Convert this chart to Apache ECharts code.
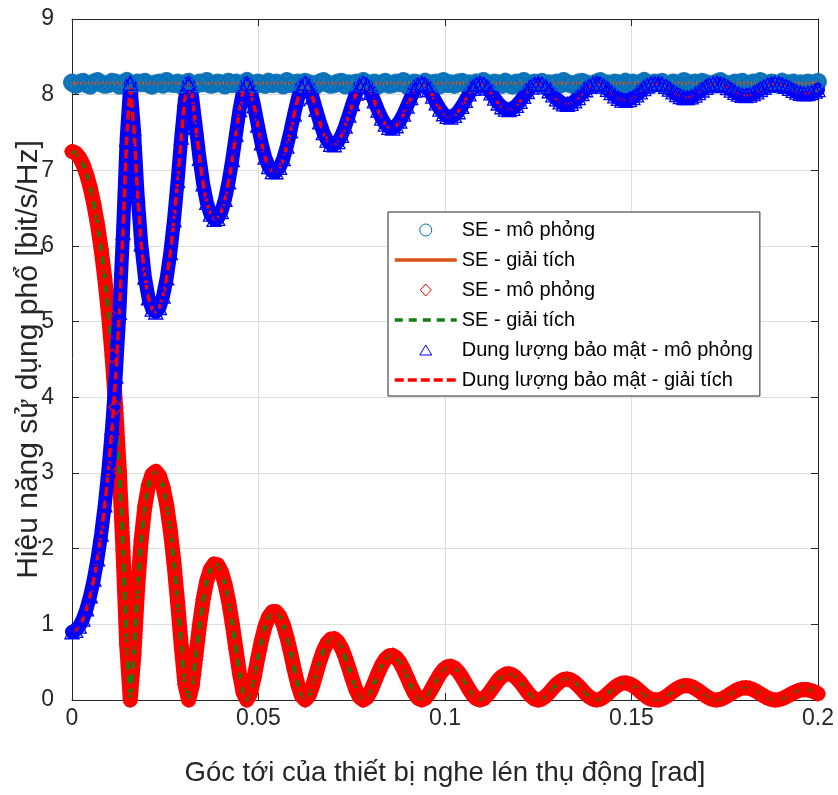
<!DOCTYPE html>
<html><head><meta charset="utf-8">
<script src="https://cdn.jsdelivr.net/npm/echarts@6/dist/echarts.min.js"></script>
<style>html,body{margin:0;padding:0;background:#fff}#c{width:838px;height:795px}</style>
</head><body><div id="c"></div>
<script>
// Sampling grid of the curves: theta = i/1024 rad (i = 0..204), last sample at 0.2 rad
const THETA_STEP = 1 / 1024;
const THETA_END = 0.2;

// SE of the legitimate user, simulation (circles)
const seLegitSim = [
8.16,8.13,8.15,8.17,8.14,8.12,8.16,8.18,8.15,8.13,8.14,8.17,8.16,8.12,8.15,8.18,8.14,8.13,8.16,8.15,
8.17,8.14,8.12,8.15,8.16,8.13,8.18,8.15,8.14,8.16,8.12,8.15,8.17,8.14,8.13,8.16,8.15,8.18,8.13,8.14,
8.16,8.15,8.12,8.17,8.14,8.16,8.13,8.15,8.18,8.14,8.12,8.16,8.15,8.13,8.17,8.14,8.16,8.15,8.12,8.18,
8.14,8.15,8.16,8.13,8.17,8.15,8.14,8.12,8.16,8.18,8.15,8.13,8.14,8.16,8.17,8.12,8.15,8.14,8.16,8.13,
8.18,8.15,8.14,8.16,8.12,8.15,8.17,8.13,8.14,8.16,8.15,8.18,8.12,8.14,8.16,8.15,8.13,8.17,8.14,8.15,
8.16,8.12,8.18,8.14,8.15,8.13,8.16,8.17,8.14,8.15,8.12,8.16,8.13,8.18,8.15,8.14,8.16,8.15,8.13,8.17,
8.14,8.12,8.16,8.15,8.18,8.13,8.14,8.16,8.15,8.17,8.12,8.15,8.14,8.16,8.13,8.18,8.15,8.14,8.12,8.16,
8.17,8.15,8.13,8.14,8.16,8.18,8.12,8.15,8.14,8.16,8.15,8.13,8.17,8.14,8.16,8.12,8.15,8.18,8.14,8.13,
8.16,8.15,8.17,8.12,8.14,8.16,8.15,8.13,8.18,8.14,8.15,8.16,8.12,8.17,8.15,8.14,8.13,8.16,8.18,8.15,
8.14,8.12,8.16,8.15,8.17,8.13,8.14,8.16,8.15,8.18,8.12,8.14,8.16,8.15,8.13,8.17,8.14,8.15,8.16,8.13,
8.15,8.14,8.16,8.15,8.13,8.17];

// SE of the legitimate user, analytic (solid line)
const seLegitAnalyticTheta = [0, 0.2];
const seLegitAnalytic = [8.15, 8.15];

// SE of the eavesdropper (diamonds = simulation, green dashed = analytic)
const seEve = [
7.248,7.229,7.174,7.080,6.947,6.772,6.553,6.283,5.959,5.570,5.106,4.547,3.868,3.027,1.973,0.733,0,
0.600,1.470,2.121,2.560,2.836,2.983,3.022,2.963,2.813,2.572,2.237,1.806,1.285,0.711,0.208,0,
0.185,0.581,0.990,1.328,1.574,1.729,1.798,1.786,1.697,1.534,1.301,1.008,0.675,0.346,0.094,0,
0.087,0.298,0.551,0.786,0.974,1.102,1.167,1.169,1.111,0.996,0.830,0.627,0.406,0.201,0.053,0,
0.050,0.178,0.344,0.509,0.650,0.750,0.805,0.812,0.771,0.688,0.567,0.421,0.268,0.130,0.034,0,
0.032,0.118,0.233,0.353,0.459,0.538,0.583,0.591,0.561,0.498,0.408,0.300,0.189,0.091,0.024,0,
0.023,0.084,0.168,0.258,0.340,0.402,0.438,0.446,0.424,0.376,0.306,0.224,0.140,0.067,0.017,0,
0.017,0.062,0.126,0.196,0.260,0.310,0.340,0.347,0.330,0.292,0.238,0.173,0.108,0.051,0.013,0,
0.013,0.048,0.098,0.154,0.205,0.246,0.271,0.277,0.264,0.233,0.189,0.137,0.085,0.040,0.010,0,
0.010,0.038,0.079,0.124,0.166,0.200,0.221,0.226,0.215,0.190,0.154,0.112,0.069,0.033,0.008,
0.004,0.001,0.015,0.041,0.077,0.114,0.148,0.174,0.189,0.190,0.179,0.155,0.124,0.088,0.053,0.024,
0.005,0.000,0.009,0.029,0.057,0.089,0.119,0.143,0.158,0.162,0.155,0.137,0.112,0.082,0.052,0.026,
0.008,0.000,0.004,0.019,0.041,0.068,0.094,0.117,0.132,0.139,0.135,0.123,0.103,
0.083];

// Secrecy capacity (triangles = simulation, red dash line = analytic)
const secrecyCap = [
0.902,0.921,0.976,1.070,1.203,1.378,1.597,1.867,2.191,2.580,3.044,3.603,4.282,5.123,6.177,7.417,8.150,
7.550,6.680,6.029,5.590,5.314,5.167,5.128,5.187,5.337,5.578,5.913,6.344,6.865,7.439,7.942,8.150,
7.965,7.569,7.160,6.822,6.576,6.421,6.352,6.364,6.453,6.616,6.849,7.142,7.475,7.804,8.056,8.150,
8.063,7.852,7.599,7.364,7.176,7.048,6.983,6.981,7.039,7.154,7.320,7.523,7.744,7.949,8.097,8.150,
8.100,7.972,7.806,7.641,7.500,7.400,7.345,7.338,7.379,7.462,7.583,7.729,7.882,8.020,8.116,8.150,
8.118,8.032,7.917,7.797,7.691,7.612,7.567,7.559,7.589,7.652,7.742,7.850,7.961,8.059,8.126,8.150,
8.127,8.066,7.982,7.892,7.810,7.748,7.712,7.704,7.726,7.774,7.844,7.926,8.010,8.083,8.133,8.150,
8.133,8.088,8.024,7.954,7.890,7.840,7.810,7.803,7.820,7.858,7.912,7.977,8.042,8.099,8.137,8.150,
8.137,8.102,8.052,7.996,7.945,7.904,7.879,7.873,7.886,7.917,7.961,8.013,8.065,8.110,8.140,8.150,
8.140,8.112,8.071,8.026,7.984,7.950,7.929,7.924,7.935,7.960,7.996,8.038,8.081,8.117,8.142,
8.146,8.149,8.135,8.109,8.073,8.036,8.002,7.976,7.961,7.960,7.971,7.995,8.026,8.062,8.097,8.126,
8.145,8.150,8.141,8.121,8.093,8.061,8.031,8.007,7.992,7.988,7.995,8.013,8.038,8.068,8.098,8.124,
8.142,8.150,8.146,8.131,8.109,8.082,8.056,8.033,8.018,8.011,8.015,8.027,8.047,
8.067];

const legendLabels = {
  legitSim: 'SE - mô phỏng',
  legitAna: 'SE - giải tích',
  eveSim: 'SE - mô phỏng',
  eveAna: 'SE - giải tích',
  secSim: 'Dung lượng bảo mật - mô phỏng',
  secAna: 'Dung lượng bảo mật - giải tích'
};
const xTickLabels = ['0', '0.05', '0.1', '0.15', '0.2'];
const yTickLabels = ['0','1','2','3','4','5','6','7','8','9'];
const xName = 'Góc tới của thiết bị nghe lén thụ động [rad]';
const yName = 'Hiệu năng sử dụng phổ [bit/s/Hz]';

// ---------------------------------------------------------------
const theta = seEve.map((_, i) => (i < seEve.length - 1 ? i * THETA_STEP : THETA_END));
const pairs = (ys, xs) => ys.map((y, i) => [(xs || theta)[i], y]);

const FONT = '"Liberation Sans", Arial, sans-serif';
const AX = '#262626';

// legend marker icons: the two leading moveTo points pin the icon box to the 62x12 legend slot
const ICON_DIAMOND = 'path://M0,0M62,12M31,0L36.5,6L31,12L25.5,6Z';
const ICON_TRIANGLE = 'path://M0,0M62,12M31,1L37,11L25,11Z';

function simSeries(name, ys, symbol, col, bandCol, size, bandWidth) {
  return {
    name, type: 'line', data: pairs(ys), symbol, symbolSize: size, showSymbol: true,
    clip: false, silent: true, animation: false,
    itemStyle: { color: 'rgba(0,0,0,0)', borderColor: col, borderWidth: 1.3 },
    lineStyle: { color: bandCol, width: bandWidth, join: 'round', cap: 'round' },
    emphasis: { disabled: true }
  };
}
function anaSeries(name, data, col, width, type) {
  return {
    name, type: 'line', data, symbol: 'none', showSymbol: false, silent: true, animation: false,
    itemStyle: { color: col },
    lineStyle: { color: col, width, type, join: 'round' },
    emphasis: { disabled: true }
  };
}

const chart = echarts.init(document.getElementById('c'), null, { renderer: 'canvas' });
const xFmt = v => xTickLabels[Math.round(v / 0.05)] ?? String(v);
const yFmt = v => yTickLabels[Math.round(v)] ?? String(v);

chart.setOption({
  animation: false,
  backgroundColor: '#fff',
  grid: { left: 72, right: 20, top: 19, bottom: 95, containLabel: false, outerBoundsMode: 'none' },
  xAxis: [{
    type: 'value', min: 0, max: 0.2, interval: 0.05, position: 'bottom',
    axisLine: { show: true, onZero: false, lineStyle: { color: AX, width: 1 } },
    axisTick: { show: true, inside: true, length: 7, lineStyle: { color: AX } },
    axisLabel: { fontSize: 23, color: AX, margin: 7, fontFamily: FONT, formatter: xFmt },
    splitLine: { show: true, lineStyle: { color: '#dedede', width: 1 } },
    name: xName, nameLocation: 'middle', nameGap: 59, nameMoveOverlap: false,
    nameTextStyle: { fontSize: 27.5, color: AX, fontFamily: FONT }
  }, {
    type: 'value', min: 0, max: 0.2, interval: 0.05, position: 'top',
    axisLine: { show: true, onZero: false, lineStyle: { color: AX, width: 1 } },
    axisTick: { show: true, inside: true, length: 7, lineStyle: { color: AX } },
    axisLabel: { show: false }, splitLine: { show: false }
  }],
  yAxis: [{
    type: 'value', min: 0, max: 9, interval: 1, position: 'left',
    axisLine: { show: true, onZero: false, lineStyle: { color: AX, width: 1 } },
    axisTick: { show: true, inside: true, length: 7, lineStyle: { color: AX } },
    axisLabel: { fontSize: 23, color: AX, margin: 18, fontFamily: FONT, formatter: yFmt },
    splitLine: { show: true, lineStyle: { color: '#dedede', width: 1 } },
    name: yName, nameLocation: 'middle', nameGap: 28, nameMoveOverlap: false,
    nameTextStyle: { fontSize: 30, color: AX, fontFamily: FONT }
  }, {
    type: 'value', min: 0, max: 9, interval: 1, position: 'right',
    axisLine: { show: true, onZero: false, lineStyle: { color: AX, width: 1 } },
    axisTick: { show: true, inside: true, length: 7, lineStyle: { color: AX } },
    axisLabel: { show: false }, splitLine: { show: false }
  }],
  legend: {
    orient: 'vertical', left: 388, top: 212, padding: [8, 7, 6, 5],
    itemWidth: 62, itemHeight: 12, itemGap: 10,
    backgroundColor: '#fff', borderColor: AX, borderWidth: 1, borderRadius: 0,
    selectedMode: false,
    textStyle: { fontSize: 20, color: '#000', fontFamily: FONT },
    formatter: n => legendLabels[n],
    data: [
      { name: 'legitSim', icon: 'circle', itemStyle: { color: '#fff', borderColor: '#0072BD', borderWidth: 1 } },
      { name: 'legitAna', itemStyle: { opacity: 0 }, lineStyle: { width: 3.5 } },
      { name: 'eveSim', icon: ICON_DIAMOND, itemStyle: { color: '#fff', borderColor: '#FF0000', borderWidth: 1 } },
      { name: 'eveAna', itemStyle: { opacity: 0 }, lineStyle: { width: 3.5 } },
      { name: 'secSim', icon: ICON_TRIANGLE, itemStyle: { color: '#fff', borderColor: '#0000FF', borderWidth: 1 } },
      { name: 'secAna', itemStyle: { opacity: 0 }, lineStyle: { width: 3.5 } }
    ]
  },
  series: [
    simSeries('legitSim', seLegitSim, 'circle', '#0072BD', '#1f78b6', 14, 18),
    anaSeries('legitAna', pairs(seLegitAnalytic, seLegitAnalyticTheta), '#D95319', 3.5, 'solid'),
    simSeries('eveSim', seEve, 'diamond', '#FF0000', '#FF0000', 14, 15),
    anaSeries('eveAna', pairs(seEve), '#108010', 3.5, [8, 6]),
    simSeries('secSim', secrecyCap, 'triangle', '#0000FF', '#0000FF', 14, 14),
    anaSeries('secAna', pairs(secrecyCap), '#FF0000', 3.5, [9, 4])
  ]
});
</script></body></html>
